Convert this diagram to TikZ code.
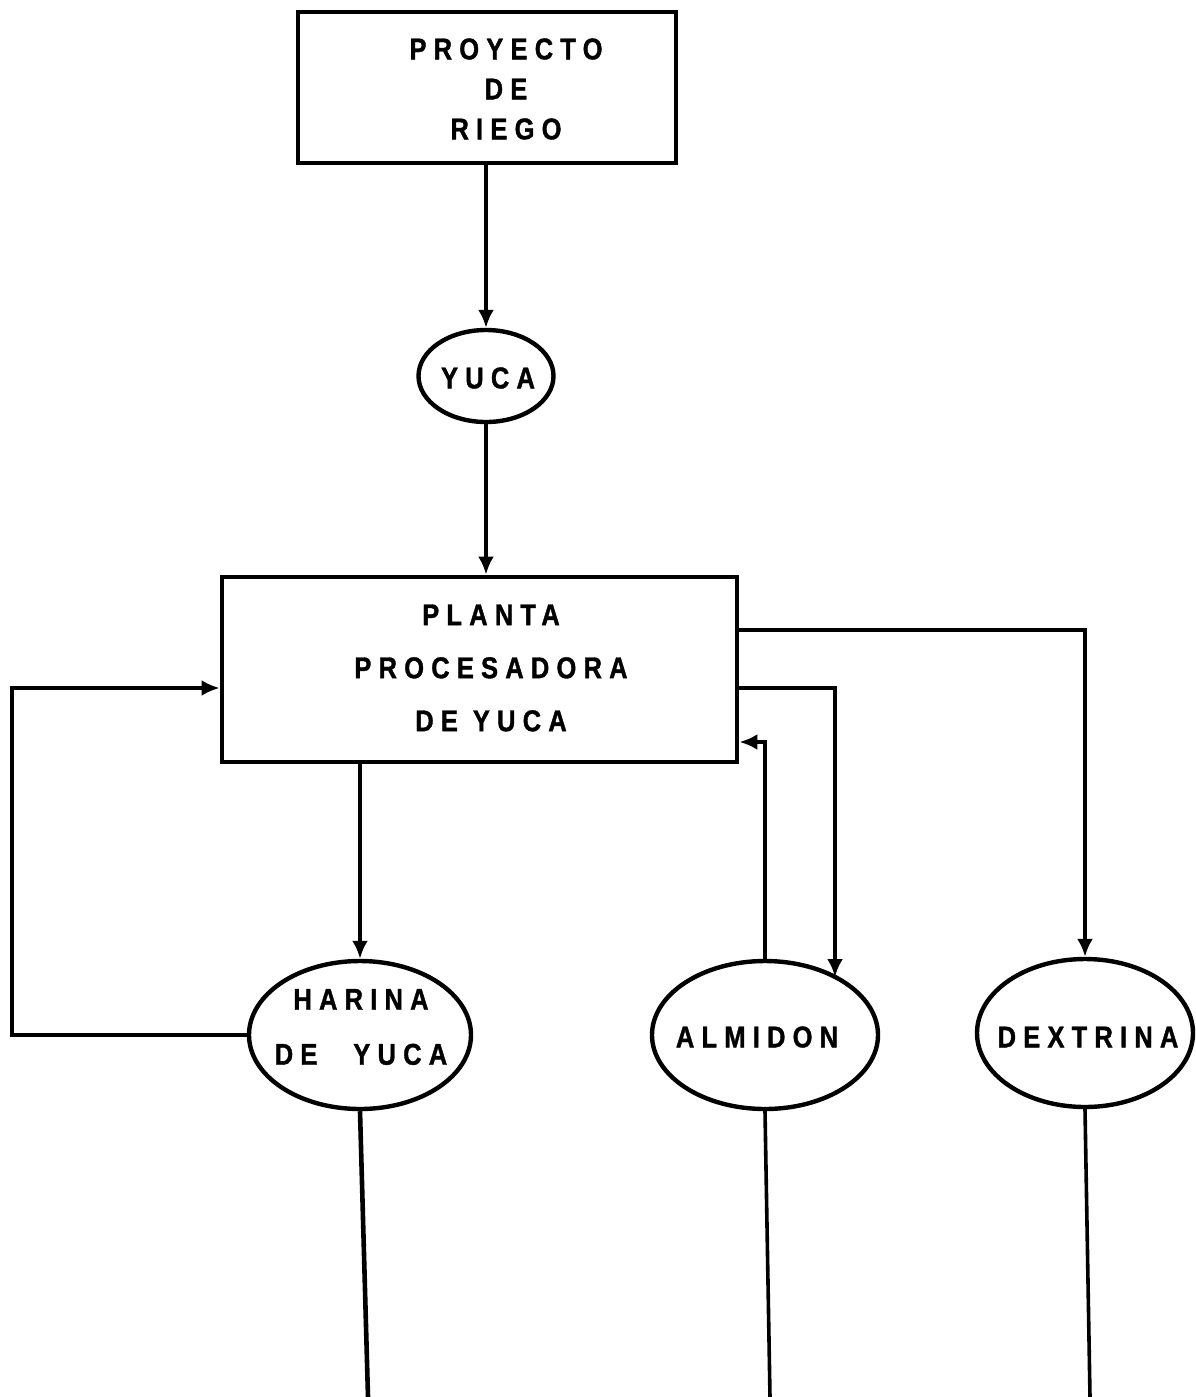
\documentclass[tikz,border=0pt]{standalone}
\usepackage{fontspec}
\usetikzlibrary{arrows.meta,shapes.geometric,calc}
\newfontfamily\lblfont[FakeStretch=0.85,LetterSpace=24,FakeBold=1.2]{Liberation Sans}
\begin{document}
\begin{tikzpicture}[x=0.5pt,y=-0.5pt,
  lbl/.style={font=\lblfont\bfseries\fontsize{15}{#1}\selectfont, align=center, inner sep=0pt},
  lbl/.default=20,
  boxn/.style={draw, line width=2.4pt, rectangle, inner sep=0pt},
  ovaln/.style={draw, line width=2.2pt, ellipse, inner sep=0pt},
  con/.style={line width=2.3pt},
  arr/.style={con, -{Latex[length=9pt,width=8pt]}}]
\useasboundingbox (0,0) rectangle (1195,1397);
% shapes
\node[boxn, minimum width=189pt, minimum height=75.5pt] (proj) at (487,87.5) {};
\node[ovaln, minimum width=67.5pt, minimum height=46pt] (yuca) at (486,376) {};
\node[boxn, minimum width=257.5pt, minimum height=92.5pt] (planta) at (479.5,669.5) {};
\node[ovaln, minimum width=111pt, minimum height=74pt] (har) at (360,1035) {};
\node[ovaln, minimum width=113pt, minimum height=74pt] (alm) at (765,1035) {};
\node[ovaln, minimum width=108pt, minimum height=74pt] (dex) at (1085,1033) {};
% texts
\node[lbl=20] (projt) at (506,89) {PROYECTO\\DE\\RIEGO};
\node[lbl] (yucat) at (488,378) {YUCA};
\node[lbl=26.5] (plantat) at (491,668) {PLANTA\\PROCESADORA\\DE\hspace{0.5em}YUCA};
\node[lbl=27.5] (hart) at (361,1027) {HARINA\\DE\hspace{1.2em}YUCA};
\node[lbl] (almt) at (757,1037) {ALMIDON};
\node[lbl] (dext) at (1088,1037) {DEXTRINA};
\coordinate (almin) at (835,977);
\coordinate (hb) at (368,1397);
\coordinate (ab) at (770,1397);
\coordinate (db) at (1090,1397);
% connectors
\draw[arr] (proj.south -| yuca.north) -- (yuca.north);
\draw[arr] (yuca.south) -- (yuca.south |- planta.north);
\draw[arr, line width=1.8pt] (planta.east |- 0,630) -| (dex.north);
\draw[arr] (planta.east |- 0,688) -| (almin);
\draw[arr, line width=1.8pt] (alm.north) |- (planta.east |- 0,742);
\draw[arr] (planta.south -| har.north) -- (har.north);
\draw[arr] (har.west) -- ++(-235,0) |- (planta.west |- 0,688);
\draw[con] (har.south) -- (hb);
\draw[con, line width=1.8pt] (alm.south) -- (ab);
\draw[con, line width=1.8pt] (dex.south) -- (db);
\end{tikzpicture}
\end{document}
